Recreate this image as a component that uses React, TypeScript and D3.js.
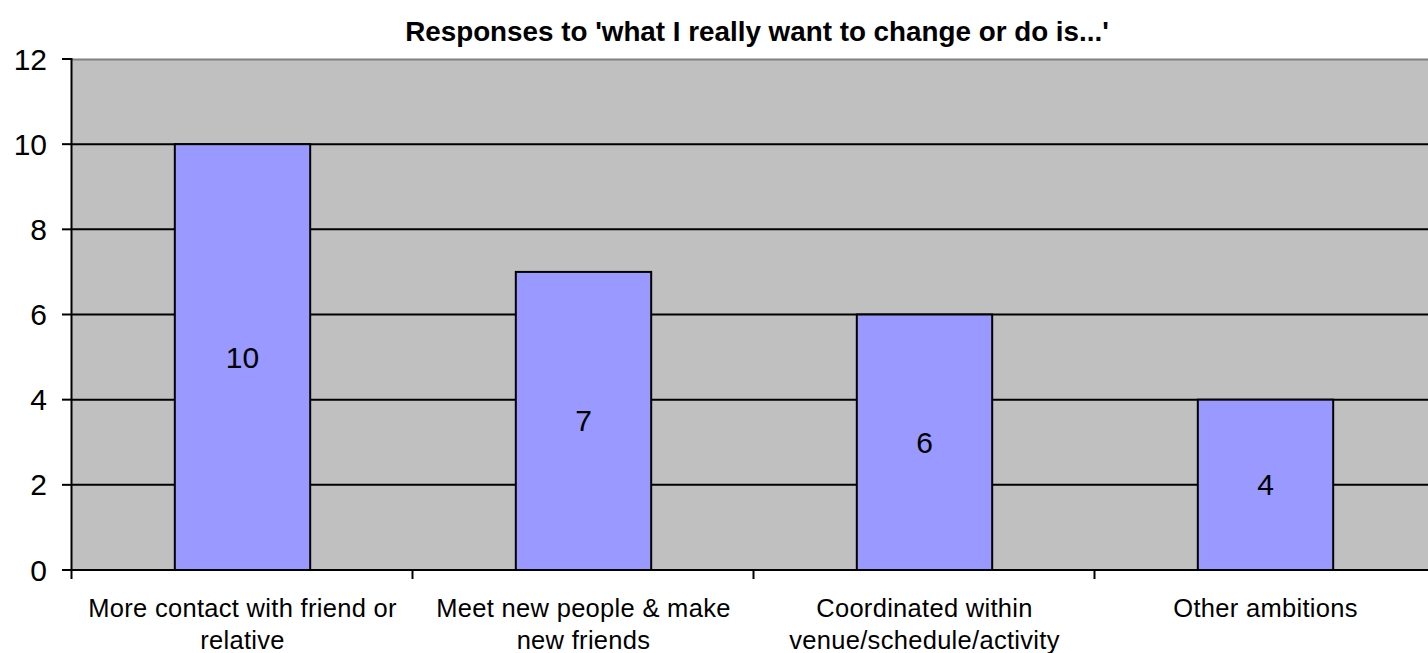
import React from "react";
import * as d3 from "d3";

// chart data
const categories = [
  "More contact with friend or relative",
  "Meet new people & make new friends",
  "Coordinated within venue/schedule/activity",
  "Other ambitions",
];
const categoryLines = [
  ["More contact with friend or", "relative"],
  ["Meet new people & make", "new friends"],
  ["Coordinated within", "venue/schedule/activity"],
  ["Other ambitions"],
];
const responses = [10, 7, 6, 4];
const yTicks = [0, 2, 4, 6, 8, 10, 12];
const title = "Responses to 'what I really want to change or do is...'";

const width = 1428;
const height = 653;
const margin = { top: 59, right: -8, bottom: 83, left: 72 };

const App: React.FC = () => {
  const plotRight = width - margin.right;
  const plotBottom = height - margin.bottom;

  const x = d3.scaleBand<string>().domain(categories).range([margin.left, plotRight]).padding(0);
  const y = d3.scaleLinear().domain([0, 12]).range([plotBottom, margin.top]);
  const barW = x.bandwidth() * 0.397;
  const font = "Arial, 'Liberation Sans', sans-serif";

  return (
    <svg
      width={width}
      height={height}
      style={{ position: "absolute", left: 0, top: 0, fontFamily: font }}
    >
      <rect width={width} height={height} fill="#fff" />
      {/* plot area */}
      <rect
        x={margin.left}
        y={margin.top}
        width={plotRight - margin.left}
        height={plotBottom - margin.top}
        fill="#C0C0C0"
      />
      <line x1={margin.left} x2={plotRight} y1={margin.top + 0.5} y2={margin.top + 0.5} stroke="#808080" strokeWidth={2} />
      {/* gridlines */}
      {yTicks
        .filter((t) => t > 0 && t < 12)
        .map((t) => (
          <line key={t} x1={margin.left} x2={plotRight} y1={y(t)} y2={y(t)} stroke="#000" strokeWidth={2} />
        ))}
      {/* bars */}
      {responses.map((v, i) => {
        const cx = (x(categories[i]) ?? 0) + x.bandwidth() / 2;
        return (
          <g key={i}>
            <rect
              x={cx - barW / 2}
              y={y(v)}
              width={barW}
              height={y(0) - y(v)}
              fill="#9999FF"
              stroke="#000"
              strokeWidth={2}
            />
            <text x={cx} y={(y(v) + y(0)) / 2} textAnchor="middle" dominantBaseline="central" fontSize={30}>
              {v}
            </text>
          </g>
        );
      })}
      {/* y axis */}
      <line x1={margin.left - 0.5} x2={margin.left - 0.5} y1={margin.top - 1} y2={plotBottom + 1} stroke="#000" strokeWidth={2} />
      {yTicks.map((t) => (
        <g key={t}>
          <line x1={margin.left - 10} x2={margin.left} y1={y(t)} y2={y(t)} stroke="#000" strokeWidth={2} />
          <text x={margin.left - 25} y={y(t)} textAnchor="end" dominantBaseline="central" fontSize={30}>
            {t}
          </text>
        </g>
      ))}
      {/* x axis */}
      <line x1={margin.left - 10} x2={plotRight} y1={plotBottom} y2={plotBottom} stroke="#000" strokeWidth={2} />
      {categories.map((c, i) => {
        const x0 = x(c) ?? 0;
        const cx = x0 + x.bandwidth() / 2;
        return (
          <g key={c}>
            <line x1={x0 - 0.5} x2={x0 - 0.5} y1={plotBottom} y2={plotBottom + 9} stroke="#000" strokeWidth={2} />
            {categoryLines[i].map((ln, j) => (
              <text key={j} x={cx} y={plotBottom + 47 + j * 32} textAnchor="middle" fontSize={25.5} letterSpacing={0.3}>
                {ln}
              </text>
            ))}
          </g>
        );
      })}
      <text x={(margin.left + plotRight) / 2 + 3} y={41} textAnchor="middle" fontSize={27.8} fontWeight="bold">
        {title}
      </text>
    </svg>
  );
};

export default App;
